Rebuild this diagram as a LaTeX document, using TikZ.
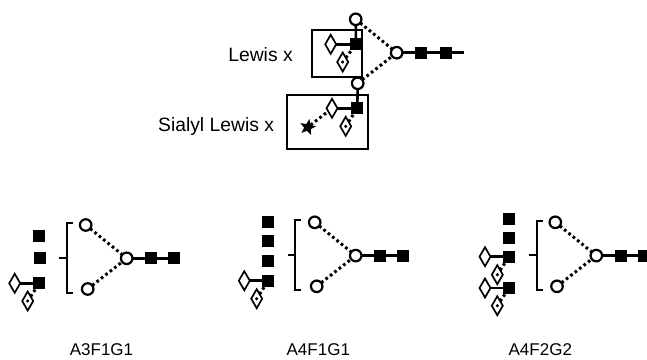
\documentclass[tikz,border=0pt]{standalone}
\usepackage{fontspec}
\setmainfont{Liberation Sans}
\usetikzlibrary{shapes.geometric,backgrounds}
\tikzset{
  gn/.style={circle,draw=black,fill=white,line width=2.2pt,minimum size=11.5pt,inner sep=0pt,outer sep=0pt},
  gs/.style={rectangle,fill=black,draw=none,minimum size=12pt,inner sep=0pt,outer sep=0pt},
  gd/.style={diamond,draw=black,fill=white,line width=1.7pt,minimum width=11pt,minimum height=19pt,aspect=0.6,inner sep=0pt,outer sep=0pt},
  gstar/.style={star,star points=5,star point ratio=2.4,fill=black,draw=none,minimum size=17pt,inner sep=0pt,outer sep=0pt,rotate=-12},
  dotc/.style={circle,fill=black,minimum size=3.5pt,inner sep=0pt,outer sep=0pt},
  solidl/.style={line width=2.6pt,draw=black},
  dotl/.style={line width=3pt,draw=black,dash pattern=on 2.7pt off 2.9pt},
  framebox/.style={rectangle,draw=black,line width=2pt,fill=none,inner sep=0pt,outer sep=0pt},
  brk/.style={line width=2.2pt,draw=black},
  labbig/.style={font=\fontsize{19.3pt}{21pt}\selectfont,text=black,inner sep=0pt,outer sep=0pt},
  lab/.style={font=\fontsize{17pt}{19pt}\selectfont,text=black,inner sep=0pt,outer sep=0pt,anchor=base},
}
\newcommand{\dotdia}[3]{\node[gd] (#1) at (#2,#3) {}; \node[dotc] (#1c) at (#2,#3) {};}
\newcommand{\core}[9]{%
  \node[gs] (#1s) at (#8,#7) {};
  \node[gs] (#1t) at (#9,#7) {};
  \node[gn] (#1a) at (#2,#3) {};
  \node[gn] (#1b) at (#4,#5) {};
  \node[gn] (#1m) at (#6,#7) {};
  \begin{scope}[on background layer]
    \draw[dotl] (#1a) -- (#1m);
    \draw[dotl] (#1b) -- (#1m);
    \draw[solidl] (#1m) -- (#1s);
    \draw[solidl] (#1s) -- (#1t);
  \end{scope}
}
\newcommand{\sidebrace}[5]{%
  \coordinate (#1p) at (#2,#3); \coordinate (#1q) at (#2,#4);
  \coordinate (#1u) at (#2+6,#3); \coordinate (#1v) at (#2+6,#4);
  \coordinate (#1w) at (#2,#5); \coordinate (#1z) at (#2-7.5,#5);
  \draw[brk] (#1u) -- (#1p) -- (#1q) -- (#1v);
  \draw[brk] (#1w) -- (#1z);
}
\begin{document}
\begin{tikzpicture}[x=1pt,y=-1pt]
\useasboundingbox (0,0) rectangle (647,359);
\begin{scope}[on background layer]
  \fill[white] (0,0) rectangle (647,359);
\end{scope}

% top structure
\node[framebox,minimum width=50.3pt,minimum height=46.7pt] (boxA) at (336.8,53.3) {};
\node[framebox,minimum width=80.4pt,minimum height=54pt] (boxB) at (327.5,122) {};

\core{T}{355.7}{19.3}{357.7}{83.3}{396.7}{52.7}{421.3}{446}
\coordinate (Tend) at (463.5,52.7);
\draw[solidl] (Tt) -- (Tend);

\node[gs] (a1) at (356,44.3) {};
\node[gd] (a2) at (330.7,44.3) {};
\dotdia{a3}{342.7}{62}
\begin{scope}[on background layer]
  \draw[solidl] (Ta) -- (a1);
  \draw[solidl] (a2) -- (a1);
  \draw[dotl] (a3) -- (a1);
\end{scope}

\node[gs] (b1) at (357.3,108.3) {};
\node[gd] (b2) at (332,108.3) {};
\dotdia{b3}{345.7}{126.3}
\node[gstar] (b4) at (307.7,127.3) {};
\begin{scope}[on background layer]
  \draw[solidl] (Tb) -- (b1);
  \draw[solidl] (b2) -- (b1);
  \draw[dotl] (b3) -- (b1);
  \draw[dotl] (b4) -- (b2);
\end{scope}

\node[labbig,anchor=base east] (l1) at (292.7,61) {Lewis x};
\node[labbig,anchor=base east] (l2) at (274,131.7) {Sialyl Lewis x};

% A3F1G1
\core{P}{85.7}{225}{87.7}{289}{126.7}{258.3}{151.3}{174.3}
\sidebrace{Pk}{66.7}{223.3}{292.7}{258}
\node[gs] (p1) at (39.3,235.7) {};
\node[gs] (p2) at (39.7,258) {};
\node[gs] (p3) at (39.3,283.3) {};
\node[gd] (p4) at (14.7,283.3) {};
\dotdia{p5}{27.7}{301}
\begin{scope}[on background layer]
  \draw[solidl] (p4) -- (p3);
  \draw[dotl] (p5) -- (p3);
\end{scope}
\node[lab] (l3) at (101.5,355) {A3F1G1};

% A4F1G1
\core{Q}{314.7}{222.3}{316.7}{286.3}{355.7}{255.6}{380.3}{403.3}
\sidebrace{Qk}{295.3}{220}{289.7}{255}
\node[gs] (q1) at (268.3,221.7) {};
\node[gs] (q2) at (268.3,241) {};
\node[gs] (q3) at (268.3,260.7) {};
\node[gs] (q4) at (268.3,280.7) {};
\node[gd] (q5) at (244.3,280.7) {};
\dotdia{q6}{256.7}{298.7}
\begin{scope}[on background layer]
  \draw[solidl] (q5) -- (q4);
  \draw[dotl] (q6) -- (q4);
\end{scope}
\node[lab] (l4) at (318.3,355) {A4F1G1};

% A4F2G2
\core{R}{555.3}{222.3}{557}{286.3}{596.3}{255.6}{620.7}{643.7}
\sidebrace{Rk}{536.7}{220.7}{289.7}{255}
\node[gs] (r1) at (509,218.7) {};
\node[gs] (r2) at (509,237.7) {};
\node[gs] (r3) at (509,256.7) {};
\node[gs] (r4) at (509,288) {};
\node[gd] (r5) at (485,256.7) {};
\node[gd] (r6) at (485,288) {};
\dotdia{r7}{497.3}{274.7}
\dotdia{r8}{497.3}{305.7}
\begin{scope}[on background layer]
  \draw[solidl] (r5) -- (r3);
  \draw[solidl] (r6) -- (r4);
  \draw[dotl] (r7) -- (r3);
  \draw[dotl] (r8) -- (r4);
\end{scope}
\node[lab] (l5) at (540.3,355) {A4F2G2};
\end{tikzpicture}
\end{document}
